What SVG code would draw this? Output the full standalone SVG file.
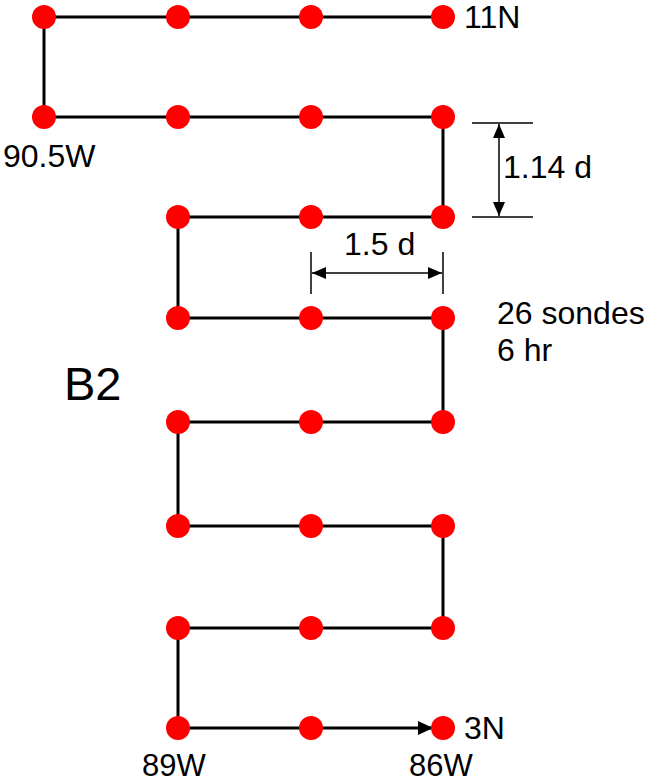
<svg xmlns="http://www.w3.org/2000/svg" width="652" height="783" viewBox="0 0 652 783">
  <style>
    .track { fill: none; stroke: #000; stroke-width: 3; stroke-linejoin: miter; }
    .dim { fill: none; stroke: #000; stroke-width: 1.5; }
    .dot { fill: #ff0000; }
    text { font-family: "Liberation Sans", Arial, sans-serif; font-size: 32px; fill: #000; }
    .big { font-size: 47px; }
    .foot { font-size: 31px; }
  </style>
  <defs>
    <marker id="head" markerUnits="userSpaceOnUse" markerWidth="16" markerHeight="14" refX="15" refY="7" orient="auto">
      <path d="M0,0 L15,7 L0,14 Z" fill="#000"/>
    </marker>
    <marker id="dimHead" markerUnits="userSpaceOnUse" markerWidth="15" markerHeight="12" refX="14" refY="6" orient="auto-start-reverse">
      <path d="M0,0 L14,6 L0,12 Z" fill="#000"/>
    </marker>
  </defs>

  <!-- flight track -->
  <g id="connectors">
    <path class="track" marker-end="url(#head)"
      d="M443,17 H44 V117 H443 V217 H178 V318 H443 V422 H178 V526 H443 V628 H178 V728 H433"/>
  </g>

  <!-- dimension markers -->
  <g id="dimension-vertical">
    <line class="dim" x1="472" y1="123" x2="533" y2="123"/>
    <line class="dim" x1="472" y1="217" x2="533" y2="217"/>
    <line class="dim" x1="499" y1="124" x2="499" y2="216" marker-start="url(#dimHead)" marker-end="url(#dimHead)"/>
    <text x="503" y="178">1.14 d</text>
  </g>
  <g id="dimension-horizontal">
    <line class="dim" x1="311" y1="252" x2="311" y2="294"/>
    <line class="dim" x1="443" y1="252" x2="443" y2="294"/>
    <line class="dim" x1="312" y1="273" x2="442" y2="273" marker-start="url(#dimHead)" marker-end="url(#dimHead)"/>
    <text x="344" y="255">1.5 d</text>
  </g>

  <!-- sonde drop points -->
  <g id="sondes">
    <g id="row1">
      <circle class="dot" cx="44" cy="17" r="12"/>
      <circle class="dot" cx="178" cy="17" r="12"/>
      <circle class="dot" cx="311" cy="17" r="12"/>
      <circle class="dot" cx="443" cy="17" r="12"/>
    </g>
    <g id="row2">
      <circle class="dot" cx="44" cy="117" r="12"/>
      <circle class="dot" cx="178" cy="117" r="12"/>
      <circle class="dot" cx="311" cy="117" r="12"/>
      <circle class="dot" cx="443" cy="117" r="12"/>
    </g>
    <g id="row3">
      <circle class="dot" cx="178" cy="217" r="12"/>
      <circle class="dot" cx="311" cy="217" r="12"/>
      <circle class="dot" cx="443" cy="217" r="12"/>
    </g>
    <g id="row4">
      <circle class="dot" cx="178" cy="318" r="12"/>
      <circle class="dot" cx="311" cy="318" r="12"/>
      <circle class="dot" cx="443" cy="318" r="12"/>
    </g>
    <g id="row5">
      <circle class="dot" cx="178" cy="422" r="12"/>
      <circle class="dot" cx="311" cy="422" r="12"/>
      <circle class="dot" cx="443" cy="422" r="12"/>
    </g>
    <g id="row6">
      <circle class="dot" cx="178" cy="526" r="12"/>
      <circle class="dot" cx="311" cy="526" r="12"/>
      <circle class="dot" cx="443" cy="526" r="12"/>
    </g>
    <g id="row7">
      <circle class="dot" cx="178" cy="628" r="12"/>
      <circle class="dot" cx="311" cy="628" r="12"/>
      <circle class="dot" cx="443" cy="628" r="12"/>
    </g>
    <g id="row8">
      <circle class="dot" cx="178" cy="728" r="12"/>
      <circle class="dot" cx="311" cy="728" r="12"/>
      <circle class="dot" cx="443" cy="728" r="12"/>
    </g>
  </g>

  <!-- labels -->
  <g id="labels">
    <text x="464" y="28">11N</text>
    <text x="3" y="167">90.5W</text>
    <text x="497" y="324">26 sondes</text>
    <text x="497" y="361">6 hr</text>
    <text class="big" x="64" y="400">B2</text>
    <text x="464" y="739">3N</text>
    <text class="foot" x="142" y="776">89W</text>
    <text class="foot" x="409" y="776">86W</text>
  </g>
</svg>
